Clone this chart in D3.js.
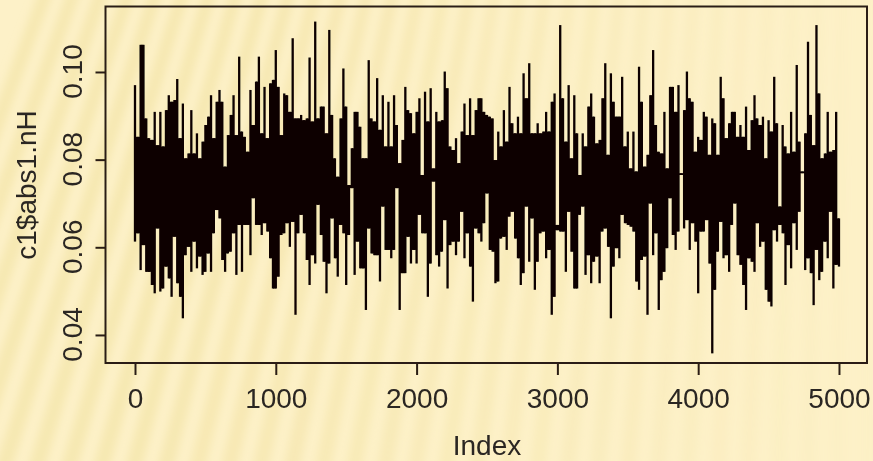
<!DOCTYPE html>
<html><head><meta charset="utf-8">
<style>html,body{margin:0;padding:0;background:#fdf1c8;overflow:hidden}svg{display:block}text{font-family:"Liberation Sans",Arial,sans-serif}</style>
<script src="https://d3js.org/d3.v7.min.js"></script></head><body>
<svg id="c" width="873" height="461"></svg>
<script>
const indexStep = 20;
const xTicks = [0,1000,2000,3000,4000,5000];
const yTicks = [0.04,0.06,0.08,0.10];
const xLabel = "Index", yLabel = "c1$abs1.nH";
// Upper and lower extent of the trace in each thinned index bin.
const traceHigh = [
.0970,.0852,.1062,.1062,.0894,.0849,.0845,.0909,.0833,.0909,.0830,.0913,.0947,.0932,.0936,.0984,.0849,.0928,.0803,.0814,
.0913,.0814,.0860,.0803,.0841,.0879,.0898,.0947,.0849,.0932,.0959,.0932,.0784,.0856,.0902,.0947,.0856,.1035,.0864,.0852,
.0818,.0959,.0879,.0978,.1035,.0860,.0966,.0849,.0974,.0982,
.1050,.0966,.0856,.0951,.0947,.0909,.1077,.0894,.0894,.0902,.0890,.0894,.1033,.0887,.1115,.0894,.0921,.0921,.0860,.1096,
.0902,.0803,.0761,.0894,.1008,.0921,.0742,.0826,.0909,.0909,.0875,.0803,.0803,.1027,.0894,.0887,.0986,.0868,.0947,.0830,
.0932,.0830,.0947,.0879,.0792,.0845,.0966,.0913,.0906,.0860,.0909,.0940,.0765,
.0955,.0887,.0963,.0780,.0909,.0887,.0890,.1001,.0963,.0830,.0822,.0849,.0792,.0864,.0928,.0856,.0940,.0856,.0913,.0940,
.0940,.0909,.0902,.0898,.0894,.0799,.0864,.0830,.0913,.0841,.0966,.0883,.0860,.0898,.0860,.0997,.0940,.1020,.0860,.0860,
.0883,.0860,.0864,.0909,.0864,.0932,.0951,.0651,.1107,.0940,.0841,.0970,.0803,.0947,
.0860,.0765,.0860,.0830,.0921,.0951,.0898,.0837,.0845,.0940,.1020,.0811,.0997,.0932,.0898,.0898,.0989,.0830,.0864,.0780,
.0864,.0773,.1012,.0932,.0784,.0811,.0947,.1050,.0879,.0818,.0814,.0909,.0780,.0966,.0966,.0909,.0970,.0769,.0913,.1001,
.0940,.0932,.0818,.0852,.0845,.0909,.0898,.0811,.0894,.0883,.0811,.0989,.0940,
.0849,.0883,.0909,.0909,.0852,.0879,.0852,.0921,.0822,.0890,.0947,.0894,.0879,.0898,.0803,.0890,.0864,.0989,.0883,.0693,
.0879,.0830,.0814,.0909,.0818,.1016,.0841,.0773,.0860,.1069,.0902,.0833,.1107,.0951,.0803,.0814,.0909,.0818,.0822,.0909,.0666];
const traceLow = [
.0613,.0632,.0548,.0605,.0544,.0544,.0514,.0495,.0643,.0499,.0506,.0556,.0529,.0487,.0624,.0518,.0487,.0438,.0582,.0601,
.0544,.0613,.0552,.0579,.0537,.0544,.0586,.0544,.0632,.0685,.0666,.0571,.0544,.0586,.0590,.0632,.0537,.0651,.0544,.0651,
.0651,.0582,.0712,.0651,.0651,.0628,.0655,.0636,.0575,.0506,
.0506,.0533,.0628,.0632,.0655,.0601,.0658,.0446,.0632,.0674,.0632,.0571,.0514,.0582,.0563,.0697,.0628,.0567,.0495,.0563,
.0666,.0575,.0533,.0651,.0632,.0514,.0628,.0735,.0537,.0613,.0552,.0552,.0457,.0643,.0586,.0582,.0582,.0522,.0693,.0594,
.0594,.0575,.0594,.0735,.0457,.0541,.0541,.0624,.0563,.0594,.0563,.0674,.0632,
.0632,.0487,.0563,.0750,.0582,.0556,.0590,.0662,.0506,.0605,.0613,.0582,.0613,.0681,.0575,.0632,.0556,.0476,.0643,.0632,
.0613,.0655,.0723,.0594,.0590,.0518,.0522,.0620,.0624,.0594,.0670,.0681,.0620,.0575,.0514,.0541,.0693,.0567,.0666,.0503,
.0567,.0632,.0636,.0575,.0594,.0446,.0487,.0639,.0636,.0636,.0544,.0681,.0590,.0506,
.0506,.0674,.0693,.0537,.0582,.0518,.0567,.0579,.0518,.0636,.0643,.0601,.0438,.0556,.0598,.0575,.0674,.0655,.0651,.0647,
.0636,.0522,.0503,.0571,.0579,.0446,.0700,.0582,.0632,.0457,.0525,.0544,.0598,.0712,.0628,.0594,.0636,.0765,.0643,.0662,
.0594,.0655,.0613,.0495,.0636,.0636,.0662,.0563,.0358,.0503,.0590,.0658,.0575,
.0582,.0544,.0651,.0700,.0582,.0560,.0514,.0457,.0575,.0567,.0544,.0655,.0601,.0613,.0503,.0476,.0465,.0639,.0613,.0651,
.0632,.0514,.0605,.0552,.0655,.0594,.0681,.0769,.0548,.0575,.0541,.0468,.0594,.0525,.0544,.0613,.0575,.0681,.0506,.0560,.0556];

const svg = d3.select("#c");
const defs = svg.append("defs");
defs.append("filter").attr("id","stripeBlur").attr("x","-20%").attr("width","140%")
  .append("feGaussianBlur").attr("stdDeviation",4);
defs.append("filter").attr("id","soft").attr("x","-5%").attr("y","-5%").attr("width","110%").attr("height","110%")
  .append("feGaussianBlur").attr("stdDeviation",0.4);

// Background: cream with fan of soft slanted stripes, fading to the right
svg.append("rect").attr("width",873).attr("height",461).attr("fill","#fdf1c8");
const apex = [860,-2200];
const fan = d3.range(-32,1,1);
const gBg = svg.append("g").attr("filter","url(#stripeBlur)");
fan.forEach(k=>{
  const a0=k*0.0112, a1=a0+0.0058;
  const at=(a,y)=>apex[0]+Math.tan(a)*(y-apex[1]);
  const op=Math.min(0.6,0.08+(-k)/45);
  gBg.append("polygon")
    .attr("points",[[at(a0,-20),-20],[at(a1,-20),-20],[at(a1,481),481],[at(a0,481),481]].join(" "))
    .attr("fill","#f2e2a4").attr("opacity",op);
});

const x = d3.scaleLinear().domain([-209.5,5199]).range([105.5,867]);
const y = d3.scaleLinear().domain([0.0336,0.11494]).range([363,6.5]);
const ink = "#0b0604";
const gTrace = svg.append("g").attr("filter","url(#soft)");

// The dense core where neighbouring bins overlap
gTrace.selectAll("rect.core").data(d3.pairs(d3.range(traceHigh.length))).join("rect").attr("class","core")
  .attr("x",([a])=>x(a*indexStep)).attr("width",([a,b])=>x(b*indexStep)-x(a*indexStep))
  .attr("y",([a,b])=>y(Math.min(traceHigh[a],traceHigh[b])))
  .attr("height",([a,b])=>Math.max(0,y(Math.max(traceLow[a],traceLow[b]))-y(Math.min(traceHigh[a],traceHigh[b]))))
  .attr("fill",ink);

// Trace spikes
gTrace.selectAll("line").data(traceHigh).join("line")
  .attr("x1",(d,i)=>x(i*indexStep)).attr("x2",(d,i)=>x(i*indexStep))
  .attr("y1",d=>y(d)).attr("y2",(d,i)=>y(traceLow[i]))
  .attr("stroke",ink).attr("stroke-width",2.3);

const gFrame = svg.append("g").attr("filter","url(#soft)");
gFrame.append("rect").attr("x",105.5).attr("y",6.5).attr("width",761.5).attr("height",356.5)
  .attr("fill","none").attr("stroke","#2a1f12").attr("stroke-width",2);

const ax = gFrame.append("g").attr("transform","translate(0,363)")
  .call(d3.axisBottom(x).tickValues(xTicks).tickFormat(d3.format("d")).tickSize(12).tickPadding(13));
const ay = gFrame.append("g").attr("transform","translate(105.5,0)")
  .call(d3.axisLeft(y).tickValues(yTicks).tickFormat(d3.format(".2f")).tickSize(10).tickPadding(0));
[ax,ay].forEach(g=>{
  g.select(".domain").remove();
  g.selectAll("line").attr("stroke","#2a1f12").attr("stroke-width",2);
  g.selectAll("text").attr("fill","#2b2622").style("font-size","28px").style("font-family",'"Liberation Sans",Arial,sans-serif');
});
ay.selectAll("text").attr("text-anchor","middle").attr("dy",0).attr("x",0).attr("y",0)
  .attr("transform","translate(-23.5,-1) rotate(-90)");

gFrame.append("text").attr("x",487).attr("y",455).attr("text-anchor","middle")
  .attr("fill","#2b2622").style("font-size","28px").text(xLabel);
gFrame.append("text").attr("transform","translate(36,185) rotate(-90)").attr("text-anchor","middle")
  .attr("fill","#2b2622").style("font-size","28px").text(yLabel);
</script></body></html>
